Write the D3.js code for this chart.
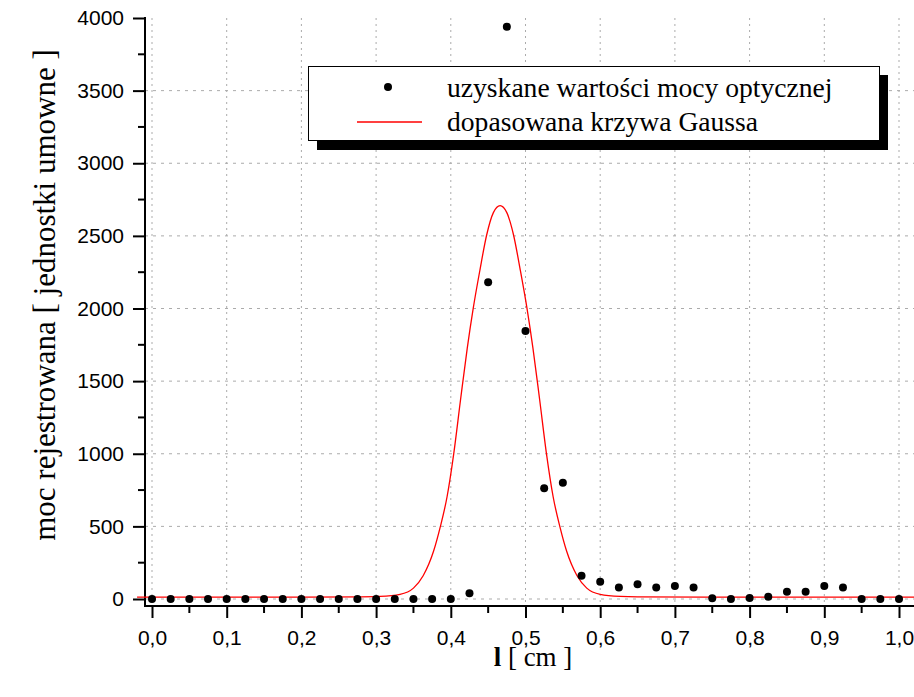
<!DOCTYPE html>
<html>
<head>
<meta charset="utf-8">
<script src="https://cdn.jsdelivr.net/npm/d3@7"></script>
<style>
  html, body { margin: 0; padding: 0; background: #fff; }
  svg { display: block; }
</style>
</head>
<body>
<svg id="chart" width="914" height="697"></svg>
<script>
// ---- data ----
const positions = [0, 0.025, 0.05, 0.075, 0.1, 0.125, 0.15, 0.175, 0.2, 0.225,
  0.25, 0.275, 0.3, 0.325, 0.35, 0.375, 0.4, 0.425, 0.45, 0.475,
  0.5, 0.525, 0.55, 0.575, 0.6, 0.625, 0.65, 0.675, 0.7, 0.725,
  0.75, 0.775, 0.8, 0.825, 0.85, 0.875, 0.9, 0.925, 0.95, 0.975, 1.0];
const measured = [0, 0, 0, 0, 0, 0, 0, 0, 0, 0,
  0, 0, 0, 0, 0, 0, 0, 40, 2180, 3940,
  1845, 762, 800, 160, 118, 80, 102, 80, 90, 80,
  5, 0, 7, 16, 50, 50, 90, 80, 0, 0, 0];

// Gaussian fit curve
const fitX = [-0.02, 0.2, 0.28, 0.305, 0.332, 0.35, 0.363, 0.377, 0.386, 0.395,
  0.404, 0.413, 0.422, 0.430, 0.439, 0.448, 0.457, 0.466, 0.475, 0.484,
  0.493, 0.502, 0.51, 0.519, 0.528, 0.537, 0.546, 0.555, 0.569, 0.582,
  0.60, 0.627, 0.65, 0.75, 1.05];
const fitY = [13, 13, 15, 18, 32, 75, 160, 330, 498, 704,
  1003, 1370, 1726, 2001, 2265, 2506, 2660, 2708, 2660, 2506,
  2265, 2001, 1726, 1370, 1003, 704, 498, 330, 160, 75,
  32, 18, 15, 13, 13];

const xTicks = [0, 0.1, 0.2, 0.3, 0.4, 0.5, 0.6, 0.7, 0.8, 0.9, 1.0];
const xMinor = [0.05, 0.15, 0.25, 0.35, 0.45, 0.55, 0.65, 0.75, 0.85, 0.95];
const yTicks = [0, 500, 1000, 1500, 2000, 2500, 3000, 3500, 4000];
const yMinor = [250, 750, 1250, 1750, 2250, 2750, 3250, 3750];
const legendLabels = ["uzyskane wartości mocy optycznej", "dopasowana krzywa Gaussa"];
const yTitle = "moc rejestrowana [ jednostki umowne ]";

// ---- layout ----
const svg = d3.select("#chart");
const axisX = 145, axisY = 606, plotTop = 18, plotRight = 914;
const x = d3.scaleLinear().domain([0, 1]).range([152, 899]);
const y = d3.scaleLinear().domain([0, 4000]).range([599, 18]);

svg.append("rect").attr("width", 914).attr("height", 697).attr("fill", "#fff");

// grid
const grid = svg.append("g");
grid.selectAll("line.gx").data(xTicks).enter().append("line")
  .attr("x1", d => x(d)).attr("x2", d => x(d))
  .attr("y1", plotTop).attr("y2", axisY)
  .attr("stroke", "#ababab").attr("stroke-width", 1)
  .attr("stroke-dasharray", "2,4");
grid.selectAll("line.gy").data(yTicks.filter(d => d < 4000)).enter().append("line")
  .attr("x1", axisX).attr("x2", plotRight)
  .attr("y1", d => y(d)).attr("y2", d => y(d))
  .attr("stroke", "#ababab").attr("stroke-width", 1)
  .attr("stroke-dasharray", "3,5");

// axes
const fmtX = d => d3.format(".1f")(d).replace(".", ",");
const gx = svg.append("g").attr("transform", `translate(0,${axisY})`)
  .call(d3.axisBottom(x).tickValues(xTicks).tickFormat(fmtX).tickSize(12).tickPadding(12));
const gy = svg.append("g").attr("transform", `translate(${axisX},0)`)
  .call(d3.axisLeft(y).tickValues(yTicks).tickFormat(d3.format("d")).tickSize(12).tickPadding(9));
[gx, gy].forEach(g => {
  g.select(".domain").remove();
  g.selectAll(".tick line").attr("stroke", "#000").attr("stroke-width", 2);
  g.selectAll(".tick text").attr("fill", "#000")
    .style("font-family", "'Liberation Sans', Arial, sans-serif").style("font-size", "21px");
});
gx.selectAll(".tick text").attr("dy", "0.72em");
// minor ticks
svg.append("g").selectAll("line").data(xMinor).enter().append("line")
  .attr("x1", d => x(d)).attr("x2", d => x(d))
  .attr("y1", axisY).attr("y2", axisY + 7)
  .attr("stroke", "#000").attr("stroke-width", 2);
svg.append("g").selectAll("line").data(yMinor).enter().append("line")
  .attr("x1", axisX - 7).attr("x2", axisX)
  .attr("y1", d => y(d)).attr("y2", d => y(d))
  .attr("stroke", "#000").attr("stroke-width", 2);
// axis lines
svg.append("line").attr("x1", axisX).attr("x2", axisX).attr("y1", y(4000) - 1).attr("y2", axisY + 1)
  .attr("stroke", "#000").attr("stroke-width", 2);
svg.append("line").attr("x1", axisX - 1).attr("x2", plotRight).attr("y1", axisY).attr("y2", axisY)
  .attr("stroke", "#000").attr("stroke-width", 2);

// fit curve
const fitData = fitX.map((d, i) => [d, fitY[i]]);
svg.append("path").datum(fitData)
  .attr("d", d3.line().x(d => x(d[0])).y(d => y(d[1])).curve(d3.curveMonotoneX))
  .attr("fill", "none").attr("stroke", "#ff0000").attr("stroke-width", 1.3);

// points
svg.append("g").selectAll("circle").data(positions).enter().append("circle")
  .attr("cx", d => x(d)).attr("cy", (d, i) => y(measured[i])).attr("r", 4)
  .attr("fill", "#000");

// legend
const lg = svg.append("g");
lg.append("rect").attr("x", 317).attr("y", 75).attr("width", 571).attr("height", 75).attr("fill", "#000");
lg.append("rect").attr("x", 308.5).attr("y", 66.5).attr("width", 571).attr("height", 74)
  .attr("fill", "#fff").attr("stroke", "#000").attr("stroke-width", 1);
lg.append("circle").attr("cx", 388).attr("cy", 87).attr("r", 4).attr("fill", "#000");
lg.append("line").attr("x1", 357).attr("x2", 422).attr("y1", 122).attr("y2", 122)
  .attr("stroke", "#ff0000").attr("stroke-width", 1.3);
lg.selectAll("text").data(legendLabels).enter().append("text")
  .attr("x", 447).attr("y", (d, i) => 97 + i * 34)
  .style("font-family", "'Liberation Serif', 'Times New Roman', serif").style("font-size", "27.6px")
  .attr("fill", "#000").text(d => d);

// axis titles
svg.append("text").attr("transform", "translate(55,295) rotate(-90)")
  .attr("text-anchor", "middle")
  .style("font-family", "'Liberation Serif', 'Times New Roman', serif").style("font-size", "31px")
  .attr("fill", "#000").text(yTitle);
const xt = svg.append("text").attr("x", 533).attr("y", 666).attr("text-anchor", "middle")
  .style("font-family", "'Liberation Serif', 'Times New Roman', serif").style("font-size", "27px")
  .attr("fill", "#000");
xt.append("tspan").style("font-weight", "bold").text("l");
xt.append("tspan").text(" [ cm ]");
</script>
</body>
</html>
